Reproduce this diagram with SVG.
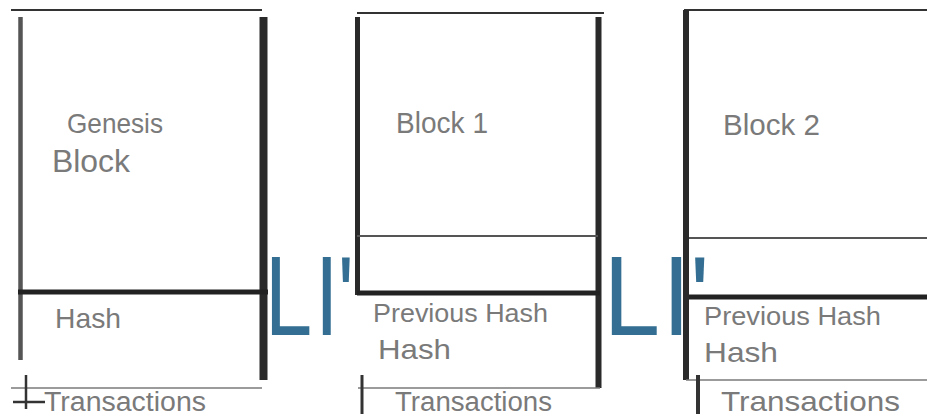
<svg xmlns="http://www.w3.org/2000/svg" width="927" height="417" viewBox="0 0 927 417">
<style>
.lbl{font-family:"Liberation Sans",Arial,sans-serif;fill:#7a7a7a}
.top{stroke:#333;stroke-width:2;fill:none}
.thin{stroke:#7a7a7a;stroke-width:1.5;fill:none}
.mid{stroke:#555;stroke-width:2;fill:none}
.thick{stroke:#222;stroke-width:5;fill:none}
.edge{stroke:#2a2a2a;fill:none}
.link{font-family:"Liberation Sans",Arial,sans-serif;fill:#346f93}
</style>
<rect width="927" height="417" fill="#fff"/>
<g id="genesis">
<line class="top" x1="11" y1="10" x2="262" y2="10"/>
<line x1="20.5" y1="17" x2="20.5" y2="360" stroke="#555" stroke-width="4.5"/>
<line class="edge" x1="263.5" y1="17" x2="263.5" y2="380" stroke-width="8"/>
<line class="thick" x1="18" y1="292" x2="268" y2="292" stroke-width="6"/>
<line class="thin" x1="11" y1="388" x2="262" y2="388"/>
<line x1="26" y1="375" x2="26" y2="409" stroke="#333" stroke-width="2.5"/>
<line x1="13" y1="402" x2="45" y2="402" stroke="#333" stroke-width="2.5"/>
<text class="lbl" x="67" y="133" font-size="28" textLength="96" lengthAdjust="spacingAndGlyphs">Genesis</text>
<text class="lbl" x="52" y="172" font-size="31" textLength="78" lengthAdjust="spacingAndGlyphs">Block</text>
<text class="lbl" x="55" y="328" font-size="28" textLength="66" lengthAdjust="spacingAndGlyphs">Hash</text>
<text class="lbl" x="44" y="411" font-size="27" textLength="162" lengthAdjust="spacingAndGlyphs">Transactions</text>
</g>
<g id="block1">
<line class="top" x1="357" y1="13" x2="604" y2="13"/>
<line class="edge" x1="357.5" y1="17" x2="357.5" y2="295" stroke-width="5"/>
<line class="edge" x1="598.5" y1="17" x2="598.5" y2="388" stroke-width="6"/>
<line class="mid" x1="357" y1="236" x2="598" y2="236"/>
<line class="thick" x1="357" y1="293" x2="600" y2="293"/>
<line class="thin" x1="358" y1="388" x2="600" y2="388"/>
<line x1="362" y1="375" x2="362" y2="414" stroke="#333" stroke-width="3"/>
<text class="lbl" x="396" y="133" font-size="30" textLength="92" lengthAdjust="spacingAndGlyphs">Block 1</text>
<text class="lbl" x="373" y="322" font-size="25" textLength="175" lengthAdjust="spacingAndGlyphs">Previous Hash</text>
<text class="lbl" x="378" y="359" font-size="28" textLength="73" lengthAdjust="spacingAndGlyphs">Hash</text>
<text class="lbl" x="395" y="411" font-size="27" textLength="157" lengthAdjust="spacingAndGlyphs">Transactions</text>
</g>
<g id="block2">
<line class="top" x1="684" y1="10" x2="927" y2="10"/>
<line class="edge" x1="686" y1="10" x2="686" y2="380" stroke-width="6"/>
<line class="mid" x1="689" y1="238" x2="927" y2="238"/>
<line class="thick" x1="689" y1="297" x2="927" y2="297"/>
<line class="thin" x1="686" y1="380" x2="927" y2="380"/>
<line x1="698" y1="375" x2="698" y2="414" stroke="#333" stroke-width="4"/>
<text class="lbl" x="723" y="135" font-size="30" textLength="97" lengthAdjust="spacingAndGlyphs">Block 2</text>
<text class="lbl" x="704" y="325" font-size="25" textLength="177" lengthAdjust="spacingAndGlyphs">Previous Hash</text>
<text class="lbl" x="704" y="362" font-size="28" textLength="74" lengthAdjust="spacingAndGlyphs">Hash</text>
<text class="lbl" x="721" y="411" font-size="28" textLength="179" lengthAdjust="spacingAndGlyphs">Transactions</text>
</g>
<g id="connectors">
<text class="link" font-size="113" transform="translate(265,335) scale(0.75,1)"><tspan x="0">L</tspan><tspan x="66.7">I</tspan><tspan x="97">'</tspan></text>
<text class="link" font-size="113" transform="translate(603.6,335) scale(0.9,1)"><tspan x="0">L</tspan><tspan x="65.3">I</tspan><tspan x="96">'</tspan></text>
</g>
</svg>
